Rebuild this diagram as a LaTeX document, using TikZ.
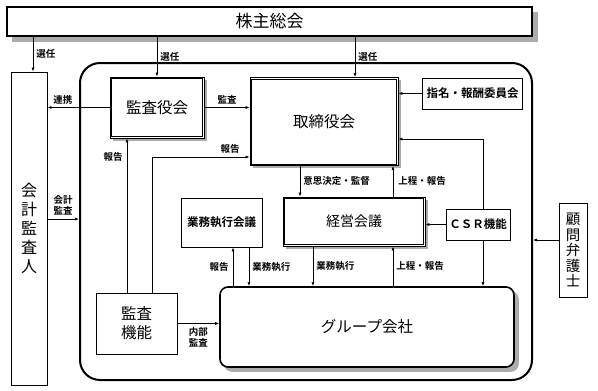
\documentclass[tikz,border=0pt]{standalone}
\usepackage{fontspec}
\setmainfont{Noto Sans CJK JP}[BoldFont={* Bold}]
\usetikzlibrary{arrows.meta, calc}

\tikzset{
  box/.style={draw, line width=0.8pt, fill=white, inner sep=0pt, align=center},
  lbl/.style={font=\fontsize{9.5}{11}\selectfont\bfseries, inner sep=1pt, align=center},
  conn/.style={->, line width=0.7pt},
  shadowfill/.style={fill=gray!65, draw=none},
}
% inner line of a double framed box
\newcommand{\dframe}[1]{%
  \draw[line width=0.6pt] ([shift={(2pt,2pt)}]#1.south west) rectangle ([shift={(-2pt,-2pt)}]#1.north east);}

\begin{document}
\begin{tikzpicture}[x=1pt, y=-1pt, >={Latex[length=4pt,width=3pt]}]
    \useasboundingbox (0,0) rectangle (598,391);

    % company frame
    \node[draw, line width=2pt, rounded corners=20pt, minimum width=452pt, minimum height=317pt, inner sep=0pt] (company) at (306,221.5) {};

    % shadows
    \fill[shadowfill] (12,12) rectangle (537.6,41.6);
    \fill[shadowfill] (112.5,79.5) rectangle (206.9,140.9);
    \fill[shadowfill] (252.5,80) rectangle (400.9,168.4);
    \fill[shadowfill] (285.5,199.5) rectangle (427.9,248.9);
    \fill[shadowfill, rounded corners=8pt] (224,291) rectangle (518.8,371.8);

    % top
    \node[box, line width=1.2pt, minimum width=525pt, minimum height=29pt, font=\fontsize{17}{20}\selectfont] (kabu) at (269.5,21.5) {株主総会};

    % outside
    \node[box, minimum width=36pt, minimum height=313pt, font=\fontsize{16}{19}\selectfont] (kaikei) at (29,228.5) {会\\計\\監\\査\\人};
    \node[box, minimum width=28pt, minimum height=94pt, font=\fontsize{14.5}{15.5}\selectfont] (komon) at (573,250) {顧\\問\\弁\\護\\士};

    % boards
    \node[box, minimum width=94pt, minimum height=61pt, font=\fontsize{15.5}{18}\selectfont] (kansa) at (157,107.5) {監査役会};
    \node[box, minimum width=148pt, minimum height=88pt, font=\fontsize{15.5}{18}\selectfont] (tori) at (324,121.5) {取締役会};
    \node[box, minimum width=142pt, minimum height=49pt, font=\fontsize{14}{17}\selectfont] (keiei) at (354,221.5) {経営会議};
    \dframe{kansa}
    \dframe{tori}
    \dframe{keiei}
    \node[box, minimum width=100pt, minimum height=31pt, font=\fontsize{11.5}{14}\selectfont\bfseries] (shimei) at (472.5,93.5) {指名・報酬委員会};
    \node[box, minimum width=81pt, minimum height=49pt, font=\fontsize{11.5}{14}\selectfont\bfseries] (gyomu) at (221.5,222.5) {業務執行会議};
    \node[box, minimum width=64pt, minimum height=31pt, font=\fontsize{11.5}{14}\selectfont\bfseries] (csr) at (478,224.5) {ＣＳＲ機能};
    \node[box, minimum width=81pt, minimum height=61pt, font=\fontsize{15.5}{19}\selectfont] (kansakino) at (136.5,323.5) {監査\\機能};

    % group companies
    \node[box, line width=1.6pt, rounded corners=8pt, minimum width=294pt, minimum height=80pt, font=\fontsize{15.5}{18}\selectfont] (group) at (367,327) {グループ会社};

    % election
    \draw[conn] (kabu.south -| 33,0) -- (kaikei.north -| 33,0) node[lbl, midway, right=2pt] {選任};
    \draw[conn] (kabu.south -| kansa) -- (kansa.north) node[lbl, midway, right=2pt] {選任};
    \draw[conn] (kabu.south -| 355,0) -- (tori.north -| 355,0) node[lbl, midway, right=2pt] {選任};

    % audit board
    \draw[conn] (kansa.west) -- (kansa.west -| kaikei.east) node[lbl, pos=0.75, above=2pt] {連携};
    \draw[conn] (kansa.east) -- (kansa.east -| tori.west) node[lbl, midway, above=2pt] {監査};
    \draw[conn] (kaikei.east |- 0,219) -- (company.west |- 0,219) node[lbl, midway, above=2pt] {会計\\監査};

    % internal audit
    \draw[conn] (kansakino.north -| 127,0) -- (kansa.south -| 127,0) node[lbl, pos=0.88, left=3pt] {報告};
    \draw[conn] (kansakino.north -| 152,0) |- (tori.west |- 0,157) node[lbl, pos=0.9, above=2pt] {報告};
    \draw[conn] (kansakino.east) -- (kansakino.east -| group.west) node[lbl, midway, below=3pt] {内部\\監査};

    % board of directors
    \draw[conn] (shimei.west) -- (shimei.west -| tori.east);
    \draw[conn] (csr.north -| 483,0) |- (tori.east |- 0,139);
    \draw[conn] (tori.south -| 300,0) -- (keiei.north -| 300,0) node[lbl, midway, right=2pt] {意思決定・監督};
    \draw[conn] (keiei.north -| 393,0) -- (tori.south -| 393,0) node[lbl, midway, right=4pt] {上程・報告};

    % CSR
    \draw[conn] (csr.west) -- (csr.west -| keiei.east);
    \draw[conn] (csr.south -| 483,0) -- (group.north -| 483,0);

    % execution
    \draw[conn] (group.north -| 233,0) -- (gyomu.south -| 233,0) node[lbl, midway, left=3pt] {報告};
    \draw[conn] (gyomu.south -| 249,0) -- (group.north -| 249,0) node[lbl, midway, right=2pt] {業務執行};
    \draw[conn] (keiei.south -| 313,0) -- (group.north -| 313,0) node[lbl, midway, right=2pt] {業務執行};
    \draw[conn] (group.north -| 393,0) -- (keiei.south -| 393,0) node[lbl, midway, right=2pt] {上程・報告};

    % counsel
    \draw[conn] (komon.west |- 0,240) -- (company.east |- 0,240);
\end{tikzpicture}
\end{document}
